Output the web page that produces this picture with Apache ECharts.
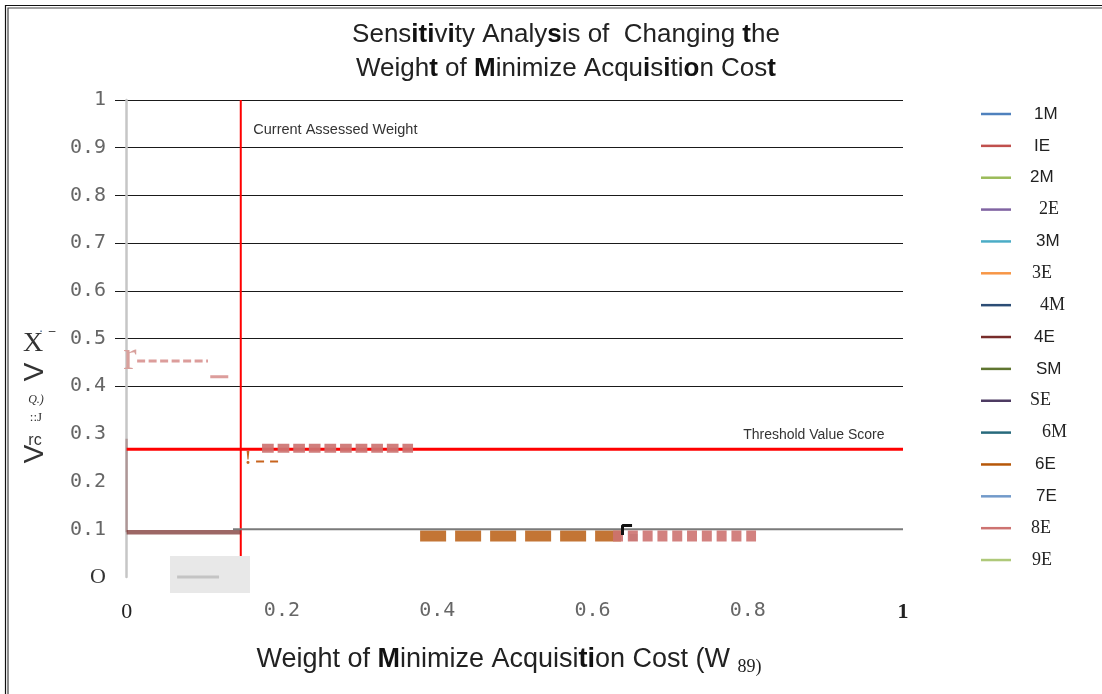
<!DOCTYPE html>
<html>
<head>
<meta charset="utf-8">
<title>Sensitivity Analysis</title>
<script src="https://cdn.jsdelivr.net/npm/echarts@6/dist/echarts.min.js"></script>
<style>
  html, body { margin: 0; padding: 0; background: #fff; }
  #chart { width: 1102px; height: 694px; }
</style>
</head>
<body>
<div id="chart"></div>
<script>
// Legend entries and their Excel-style series colours
const seriesNames = ['1M', 'IE', '2M', '2E', '3M', '3E', '4M', '4E', 'SM', 'SE', '6M', '6E', '7E', '8E', '9E'];
const seriesColors = ['#4F81BD', '#C0504D', '#9BBB59', '#8064A2', '#4BACC6', '#F79646', '#2C4D75', '#772C2A',
                      '#5F7530', '#4D3B62', '#276A7C', '#B65708', '#729ACA', '#CD7371', '#AFC97A'];
// Serif or sans face used for each legend label
const legendSerif = ['2E', '3E', '4M', 'SE', '6M', '8E', '9E'];
const legendPad = [4, 4, 0, 9, 6, 2, 10, 4, 6, 0, 12, 5, 6, 1, 2];

// Axis ticks
const xTicks = [0, 0.2, 0.4, 0.6, 0.8, 1];
const yTickLabels = ['O', '0.1', '0.2', '0.3', '0.4', '0.5', '0.6', '0.7', '0.8', '0.9', '1'];

// Reference values
const currentWeight = 0.147;
const thresholdScore = 0.268;

// Series values as [weight, value]
const values4E = [[0, 0.094], [0.147, 0.094]];
const values4Erise = [[0, 0.29], [0, 0.094]];
const values6E = [[0.378, 0.086], [0.637, 0.086]];
const values6Eshort = [[0.1667, 0.242], [0.1963, 0.242]];
const values8E = [[0.1744, 0.270], [0.3689, 0.270]];
const values8Eupper = [[0.0135, 0.453], [0.1048, 0.453]];
const values8Eshort = [[0.1077, 0.42], [0.1309, 0.42]];
const values8Elower = [[0.6265, 0.086], [0.8107, 0.086]];
const valuesTenth = [[0.137, 0.1], [1, 0.1]];
const valuesCorner = [[0.6387, 0.088], [0.6387, 0.108], [0.651, 0.108]];
const valuesGrayStub = [[0.648, 0.083], [0.658, 0.083]];
const valuesBase = [[0.065, 0], [0.119, 0]];
const currentLine = [[currentWeight, 0], [currentWeight, 1]];
const thresholdLine = [[0, thresholdScore], [1, thresholdScore]];

const SANS = '"Liberation Sans", Arial, sans-serif';
const SERIF = '"Liberation Serif", "DejaVu Serif", serif';
const MONO = '"DejaVu Sans Mono", "Liberation Mono", monospace';

function lineSeries(name, data, color, width, dash, extra) {
  return Object.assign({
    name: name,
    type: 'line',
    data: data,
    symbol: 'none',
    color: color,
    lineStyle: { color: color, width: width, type: dash || 'solid', cap: 'butt' },
    z: 3
  }, extra || {});
}

const drawn = {
  '4E': lineSeries('4E', values4E, '#772C2A', 4.5, 'solid', { lineStyle: { color: '#772C2A', width: 4.5, opacity: 0.72 } }),
  '6E': lineSeries('6E', values6E, '#B65708', 11, [26, 9], { lineStyle: { color: '#B65708', width: 11, type: [26, 9], cap: 'butt', opacity: 0.82 } }),
  '8E': lineSeries('8E', values8E, '#CD7371', 9, [11.7, 3.9], { z: 5, lineStyle: { color: '#CD7371', width: 9, type: [11.7, 3.9], cap: 'butt', opacity: 0.92 } })
};

const series = seriesNames.map((n, i) => drawn[n] ? drawn[n] : lineSeries(n, [], seriesColors[i], 2));

series.push(
  lineSeries(null, values4Erise, '#772C2A', 2.5, 'solid', { lineStyle: { color: '#772C2A', width: 2.5, opacity: 0.3 } }),
  lineSeries(null, valuesTenth, '#7a7a7a', 2),
  lineSeries(null, currentLine, '#ff0000', 2, 'solid', {
    z: 2,
    markPoint: {
      symbol: 'circle', symbolSize: 1, itemStyle: { color: 'rgba(0,0,0,0)' },
      data: [{ coord: [currentWeight, 0.937] }],
      label: { show: true, position: 'right', distance: 12, formatter: 'Current Assessed Weight',
               fontFamily: SANS, fontSize: 14.5, color: '#333' }
    }
  }),
  lineSeries(null, thresholdLine, '#ff0000', 3, 'solid', {
    z: 4,
    markPoint: {
      symbol: 'circle', symbolSize: 1, itemStyle: { color: 'rgba(0,0,0,0)' },
      data: [{ coord: [1, thresholdScore] }],
      label: { show: true, position: 'left', distance: 18, offset: [0, -14], formatter: 'Threshold Value Score',
               fontFamily: SANS, fontSize: 14, color: '#333' }
    }
  }),
  lineSeries(null, values8Eupper, '#CD7371', 3, [8, 3.5], { lineStyle: { color: '#CD7371', width: 3, type: [8, 3.5], cap: 'butt', opacity: 0.7 } }),
  lineSeries(null, values8Eshort, '#CD7371', 3, 'solid', { lineStyle: { color: '#CD7371', width: 3, opacity: 0.7 } }),
  lineSeries(null, values6Eshort, '#c8641e', 2, [8, 6]),
  lineSeries(null, valuesGrayStub, '#a8a8a8', 7, 'solid', { z: 5 }),
  lineSeries(null, values8Elower, '#CD7371', 11, [10, 4.8], { z: 6, lineStyle: { color: '#CD7371', width: 11, type: [10, 4.8], cap: 'butt', opacity: 0.9 } }),
  lineSeries(null, valuesCorner, '#111', 3, 'solid', { z: 7 }),
  lineSeries(null, valuesBase, '#c4c4c4', 3, 'solid', { z: 12, clip: false })
);

// Gridlines: only 0.4 to 1 are drawn as axis split lines
const splitColors = yTickLabels.map((t, i) => i >= 4 ? '#1a1a1a' : 'rgba(0,0,0,0)');

const option = {
  animation: false,
  color: seriesColors,
  title: {
    left: 561, top: 13, textAlign: 'center',
    text: 'Sens{b|iti}v{b|i}ty Analy{b|s}is of  Changing {b|t}he\nWeigh{b|t} of {b|M}inimize Acqu{b|i}s{b|i}ti{b|o}n Cos{b|t}',
    textStyle: {
      fontFamily: SANS, fontSize: 26, fontWeight: 'normal', color: '#222', lineHeight: 34,
      rich: { b: { fontFamily: SANS, fontSize: 26, fontWeight: 'bold', color: '#111', lineHeight: 34 } }
    }
  },
  legend: {
    orient: 'vertical', left: 976, top: 99,
    itemWidth: 30, itemHeight: 2.5, itemGap: 11.86, icon: 'rect',
    data: seriesNames.map((n, i) => ({
      name: n,
      textStyle: {
        fontFamily: legendSerif.includes(n) ? SERIF : SANS,
        fontSize: legendSerif.includes(n) ? 18 : 17,
        color: '#222', lineHeight: 20,
        padding: [0, 0, 0, 14 + legendPad[i]]
      }
    }))
  },
  grid: { left: 115, right: 199, top: 100, bottom: 117 },
  xAxis: {
    type: 'value', min: -0.015, max: 1,
    axisLine: { show: false }, axisTick: { show: false }, splitLine: { show: false },
    axisLabel: {
      customValues: xTicks, margin: 24,
      formatter: v => v === 0 ? '{z|0}' : (v === 1 ? '{o|1}' : '{m|' + v.toFixed(1) + '}'),
      rich: {
        z: { fontFamily: SERIF, fontSize: 22, color: '#222' },
        o: { fontFamily: SERIF, fontSize: 22, fontWeight: 'bold', color: '#222' },
        m: { fontFamily: MONO, fontSize: 20, color: '#666' }
      }
    },
    name: 'Weight of {b|M}inimize Acquisi{b|ti}on Cost (W {s|89)}',
    nameLocation: 'middle', nameGap: 67,
    nameTextStyle: {
      fontFamily: SANS, fontSize: 27, color: '#222',
      rich: {
        b: { fontFamily: SANS, fontSize: 27, fontWeight: 'bold', color: '#111' },
        s: { fontFamily: SERIF, fontSize: 18, color: '#222', padding: [14, 0, 0, 0] }
      }
    }
  },
  yAxis: {
    type: 'value', min: 0, max: 1, interval: 0.1,
    axisLine: { show: true, onZero: true, lineStyle: { color: '#c6c6c6', width: 2.5 } },
    axisTick: { show: false },
    axisLabel: {
      margin: 9,
      formatter: v => v === 0 ? '{o|O}' : '{m|' + yTickLabels[Math.round(v * 10)] + '}',
      rich: {
        o: { fontFamily: SERIF, fontSize: 22, color: '#333' },
        m: { fontFamily: MONO, fontSize: 20, color: '#666' }
      }
    },
    splitLine: { show: true, lineStyle: { color: splitColors, width: 1 } }
  },
  series: series,
  graphic: [
    // frame
    { type: 'polyline', shape: { points: [[5.5, 694], [5.5, 5.5], [1102, 5.5]] }, style: { stroke: '#111', lineWidth: 1.2, fill: null }, silent: true },
    { type: 'polyline', shape: { points: [[8, 694], [8, 8], [1102, 8]] }, style: { stroke: '#444', lineWidth: 1.2, fill: null }, silent: true },
    // shaded patch below the axis
    { type: 'rect', shape: { x: 170, y: 556, width: 80, height: 37 }, style: { fill: '#e8e8e8' }, z: 10, silent: true },
    // vertical axis title glyphs
    { type: 'text', x: 35, y: 454, rotation: Math.PI / 2, style: { text: 'V', fontFamily: SANS, fontSize: 28, fill: '#333', align: 'center', verticalAlign: 'middle' }, z: 20 },
    { type: 'text', x: 35, y: 441, style: { text: 'rc', fontFamily: SANS, fontSize: 16, fill: '#333', align: 'center', verticalAlign: 'middle' }, z: 20 },
    { type: 'text', x: 36, y: 418, style: { text: '::J', fontFamily: SERIF, fontSize: 13, fill: '#333', align: 'center', verticalAlign: 'middle' }, z: 20 },
    { type: 'text', x: 36, y: 400, style: { text: 'Q.)', fontFamily: SERIF, fontStyle: 'italic', fontSize: 12, fill: '#333', align: 'center', verticalAlign: 'middle' }, z: 20 },
    { type: 'text', x: 35, y: 372, rotation: Math.PI / 2, style: { text: 'V', fontFamily: SANS, fontSize: 28, fill: '#333', align: 'center', verticalAlign: 'middle' }, z: 20 },
    { type: 'text', x: 33, y: 344, style: { text: 'X', fontFamily: SERIF, fontSize: 28, fill: '#333', align: 'center', verticalAlign: 'middle' }, z: 20 },
    { type: 'text', x: 41, y: 331, style: { text: '·', fontFamily: SANS, fontSize: 14, fill: '#4a6e9a', align: 'center', verticalAlign: 'middle' }, z: 20 },
    { type: 'text', x: 52, y: 332, style: { text: '–', fontFamily: SANS, fontSize: 12, fill: '#333', align: 'center', verticalAlign: 'middle' }, z: 20 },
    // stray glyphs along the series
    { type: 'text', x: 130, y: 358, style: { text: 'r', fontFamily: SERIF, fontSize: 40, fill: '#d8a09c', align: 'center', verticalAlign: 'middle' }, z: 20 },
    { type: 'text', x: 248, y: 459, style: { text: '!', fontFamily: SERIF, fontWeight: 'bold', fontSize: 18, fill: '#c8641e', align: 'center', verticalAlign: 'middle' }, z: 20 }
  ]
};

const chart = echarts.init(document.getElementById('chart'), null, { renderer: 'canvas' });
chart.setOption(option);
</script>
</body>
</html>
